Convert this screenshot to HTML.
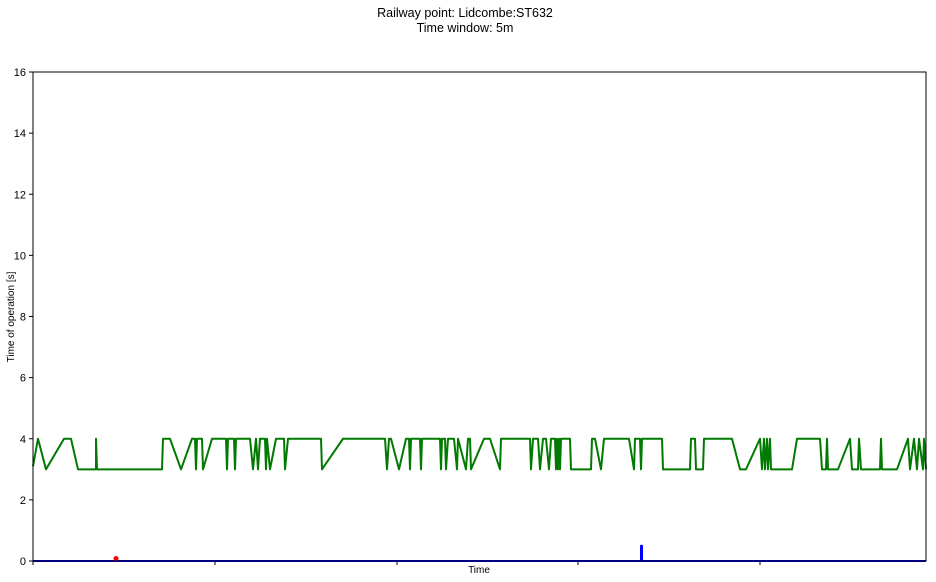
<!DOCTYPE html>
<html><head><meta charset="utf-8"><style>
html,body{margin:0;padding:0;background:#fff;}
svg{display:block;font-family:"Liberation Sans","DejaVu Sans",sans-serif;}
</style></head><body>
<svg id="chart" width="936" height="582" viewBox="0 0 936 582">
<text x="465" y="17" text-anchor="middle" font-size="12.5">Railway point: Lidcombe:ST632</text>
<text x="465" y="32" text-anchor="middle" font-size="12.5">Time window: 5m</text>
<text x="14" y="317" text-anchor="middle" font-size="10" transform="rotate(-90 14 317)">Time of operation [s]</text>
<text x="479" y="573" text-anchor="middle" font-size="10">Time</text>
<g id="yticks"></g>
<g id="xticks"></g>
<g id="series"></g>
<rect x="33" y="72" width="893" height="489" fill="none" stroke="#000" stroke-width="1"/>
</svg>
<script>
const yTickValues=[0,2,4,6,8,10,12,14,16];
const xTickValues=[0,182,364,545,727];
// green series: time index, operation time [s]
const greenT=[0,5,13,31,38,45,63,63,64,129,
130,137,148,159,162,163,164,169,170,179,
193,194,195,201,202,203,217,220,223,225,
227,232,233,234,237,243,251,252,255,288,
289,310,352,354,356,358,366,373,376,377,
378,387,388,389,407,408,409,412,413,415,
421,424,425,433,435,437,438,451,457,467,
468,497,498,500,505,507,510,513,516,518,
522,523,524,525,526,527,528,537,538,558,
559,562,568,571,596,601,602,607,608,609,
629,630,657,658,662,663,670,671,699,707,
713,727,729,731,732,734,735,737,738,759,
764,787,789,793,794,795,805,817,819,825,
826,828,847,848,849,853,858,864,875,877,
881,884,886,890,891,893];
const greenV=[3.1,4,3,4,4,3,3,4,3,3,
4,4,3,4,4,3,4,4,3,4,
4,3,4,4,3,4,4,3,4,3,
4,4,3,4,3,4,4,3,4,4,
3,4,4,3,4,4,3,4,4,3,
4,4,3,4,4,3,4,4,3,4,
4,3,4,3,4,4,3,4,4,3,
4,4,3,4,4,3,4,4,3,4,
4,3,4,3,4,3,4,4,3,3,
4,4,3,4,4,3,4,4,3,4,
4,3,3,4,4,3,3,4,4,3,
3,4,3,4,3,4,3,4,3,3,
4,4,3,3,4,3,3,4,3,3,
4,3,3,4,3,3,3,3,4,3,
4,3,4,3,4,3];
const blueT=[0,608,608,609,609,893];
const blueV=[0,0,0.5,0.5,0,0];
const redT=[83];
const redV=[0.08];
const X0=33,X1=926,Y0=561,Y1=72,TMAX=893,VMAX=16;
const sx=t=>X0+t/TMAX*(X1-X0);
const sy=v=>Y0-v/VMAX*(Y0-Y1);
const NS="http://www.w3.org/2000/svg";
const yg=document.getElementById('yticks'),xg=document.getElementById('xticks'),sg=document.getElementById('series');
yTickValues.forEach(v=>{
  const l=document.createElementNS(NS,'line');
  l.setAttribute('x1',X0-4);l.setAttribute('x2',X0);l.setAttribute('y1',sy(v));l.setAttribute('y2',sy(v));l.setAttribute('stroke','#000');
  
  
  yg.appendChild(l);
  const t=document.createElementNS(NS,'text');
  t.setAttribute('x',X0-7);t.setAttribute('y',sy(v)+4);t.setAttribute('text-anchor','end');t.setAttribute('font-size','11');
  t.textContent=v;
  
  
  yg.appendChild(t);
});
xTickValues.forEach(v=>{
  const l=document.createElementNS(NS,'line');
  l.setAttribute('x1',sx(v));l.setAttribute('x2',sx(v));l.setAttribute('y1',Y0);l.setAttribute('y2',Y0+4);l.setAttribute('stroke','#000');
  
  
  xg.appendChild(l);
});
function line(T,V,color,name){
  const n=Math.min(T.length,V.length);
  const pts=[];
  for(let i=0;i<n;i++)pts.push(sx(T[i])+','+sy(V[i]));
  const p=document.createElementNS(NS,'polyline');
  p.setAttribute('points',pts.join(' '));
  p.setAttribute('fill','none');p.setAttribute('stroke',color);p.setAttribute('stroke-width','2');p.setAttribute('stroke-linejoin','round');
  
  
  sg.appendChild(p);
}
line(greenT,greenV,'#007a00','green-series-line');
line(blueT,blueV,'#0000ff','blue-series-line');
redT.forEach((t,i)=>{
  const c=document.createElementNS(NS,'circle');
  c.setAttribute('cx',sx(t));c.setAttribute('cy',sy(redV[i]));c.setAttribute('r','2.5');c.setAttribute('fill','#ff0000');
  
  
  sg.appendChild(c);
});
</script>
</body></html>
